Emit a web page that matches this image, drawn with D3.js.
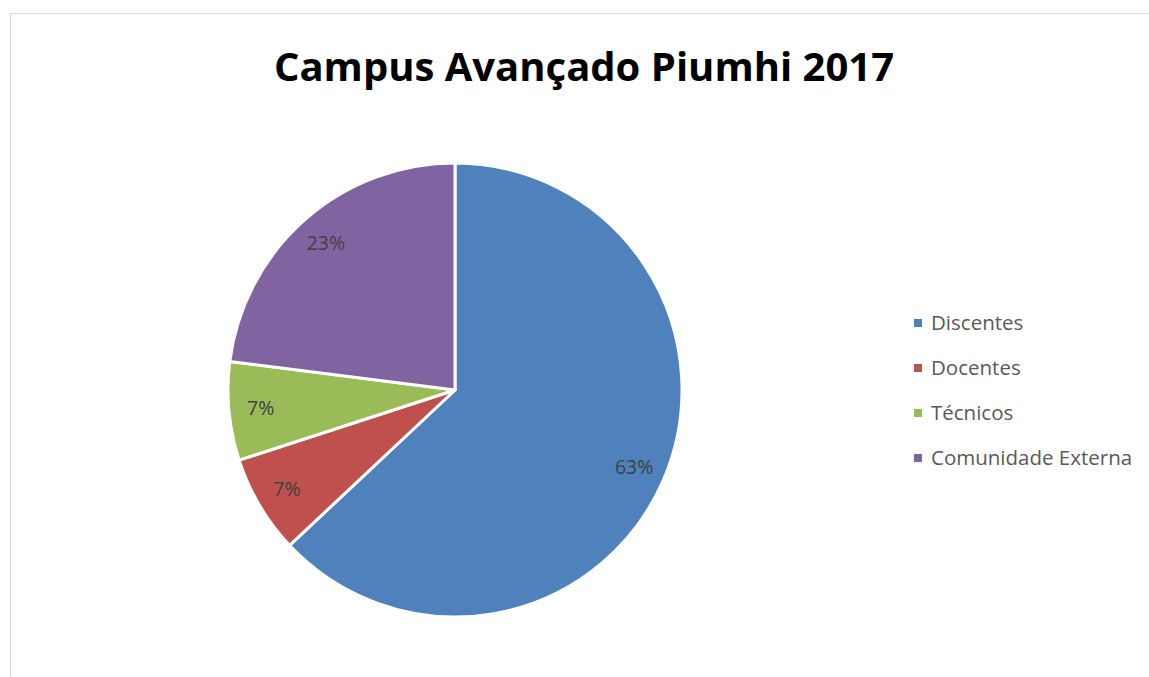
<!DOCTYPE html>
<html lang="pt">
<head>
  <meta charset="utf-8">
  <script src="https://d3js.org/d3.v7.min.js"></script>
  <title>Campus Avançado Piumhi 2017</title>
  <style>
    body { margin: 0; background: #fff; }
    .title { font-family: "Open Sans", sans-serif; font-weight: bold; fill: #000; }
    .label { font-family: "Open Sans", sans-serif; font-size: 19.5px; fill: #404040; }
    .legend text { font-family: "Open Sans", sans-serif; font-size: 20.5px; fill: #595959; }
  </style>
</head>
<body>
<svg width="1149" height="677" id="chart"></svg>
<script>
var categories = ["Discentes", "Docentes", "Técnicos", "Comunidade Externa"];
var values = [63, 7, 7, 23];
var colors = ["#4f81bd", "#c0504d", "#9bbb59", "#8064a2"];

var svg = d3.select("#chart");

// chart area border (only top and left show in the window)
svg.append("rect")
  .attr("x", 10.5).attr("y", 13.5)
  .attr("width", 1200).attr("height", 700)
  .attr("fill", "none")
  .attr("stroke", "#d9d9d9")
  .attr("stroke-width", 1);

svg.append("text")
  .attr("class", "title")
  .attr("x", 584)
  .attr("y", 81)
  .attr("text-anchor", "middle")
  .style("font-size", "40px")
  .text("Campus Avançado Piumhi 2017");

var cx = 455, cy = 390, radius = 227;

var pie = d3.pie().sort(null).value(function(d) { return d; });
var arc = d3.arc().innerRadius(0).outerRadius(radius);
var labelArc = d3.arc().innerRadius(radius * 0.86).outerRadius(radius * 0.86);

var g = svg.append("g").attr("transform", "translate(" + cx + "," + cy + ")");

g.selectAll("path")
  .data(pie(values))
  .enter().append("path")
    .attr("d", arc)
    .attr("fill", function(d, i) { return colors[i]; })
    .attr("stroke", "#fff")
    .attr("stroke-width", 3)
    .attr("stroke-linejoin", "round");

var total = d3.sum(values);
g.selectAll("text.label")
  .data(pie(values))
  .enter().append("text")
    .attr("class", "label")
    .attr("transform", function(d) { return "translate(" + labelArc.centroid(d) + ")"; })
    .attr("text-anchor", "middle")
    .attr("dy", "0.35em")
    .text(function(d) { return Math.round(d.data / total * 100) + "%"; });

var legend = svg.append("g").attr("class", "legend")
  .selectAll("g")
  .data(categories)
  .enter().append("g")
    .attr("transform", function(d, i) { return "translate(914," + (323 + i * 45) + ")"; });

legend.append("rect")
  .attr("x", 0).attr("y", -4)
  .attr("width", 8).attr("height", 8)
  .attr("fill", function(d, i) { return colors[i]; });

legend.append("text")
  .attr("x", 17)
  .attr("dy", "0.35em")
  .text(function(d) { return d; });
</script>
</body>
</html>
